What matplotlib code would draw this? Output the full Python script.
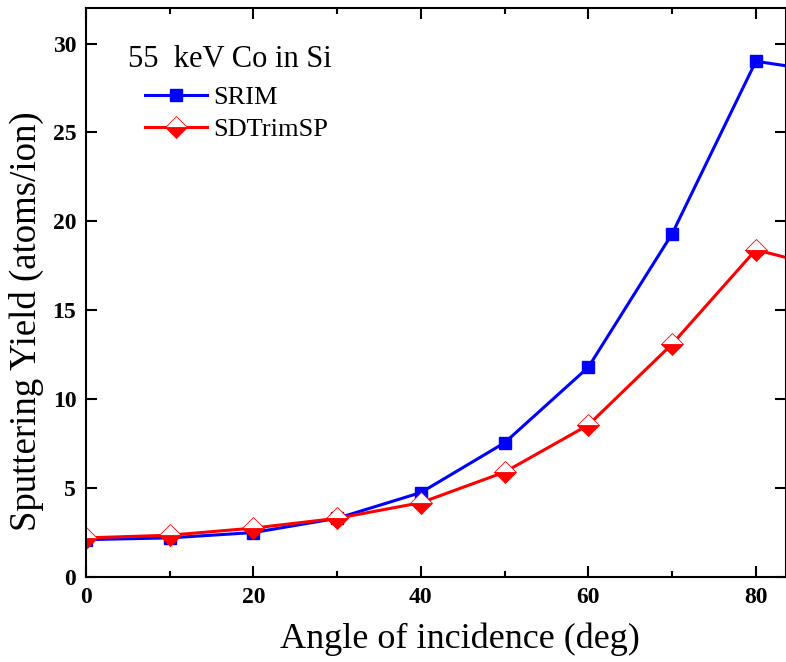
import numpy as np
import matplotlib
matplotlib.use('Agg')
import matplotlib.pyplot as plt

plt.rc('font', family='Liberation Serif')

angle = [0, 10, 20, 30, 40, 50, 60, 70, 80, 90]
srim = [2.1, 2.2, 2.5, 3.3, 4.75, 7.55, 11.8, 19.3, 29.0, 28.3]
sdtrim = [2.2, 2.35, 2.75, 3.3, 4.18, 5.9, 8.55, 13.1, 18.4, 17.2]

fig = plt.figure(figsize=(7.86, 6.62), dpi=100)
ax = fig.add_axes([0.1094, 0.1284, 0.8906, 0.8596])

ax.plot(angle, srim, '-', color='blue', lw=2.2, marker='s', ms=9,
        mfc='blue', mec='blue', label='SRIM')
ax.plot(angle, sdtrim, '-', color='red', lw=2.2, marker='D', ms=11,
        fillstyle='bottom', mfc='red', mfcalt='white', mec='red', mew=0.6,
        label='SDTrimSP')

ax.set_xlim(0, 83.6)
ax.set_ylim(0, 32)
ax.set_xticks([0, 20, 40, 60, 80])
ax.set_xticks([10, 30, 50, 70], minor=True)
ax.set_yticks([0, 5, 10, 15, 20, 25, 30])
ax.tick_params(which='both', direction='in', top=True, right=True,
               width=1.5, labelsize=17)
ax.tick_params(which='major', length=8, pad=7)
ax.tick_params(which='minor', length=4)
for lbl in ax.get_xticklabels() + ax.get_yticklabels():
    lbl.set_fontweight('bold')
for s in ax.spines.values():
    s.set_linewidth(1.5)

ax.set_xlabel('Angle of incidence (deg)', fontsize=26)
ax.set_ylabel('Sputtering Yield (atoms/ion)', fontsize=26.5)
ax.xaxis.set_label_coords(0.534, -0.08)
ax.yaxis.set_label_coords(-0.06, 0.45)

ax.text(0.06, 0.9086, '55  keV Co in Si', transform=ax.transAxes,
        fontsize=22, va='center', ha='left')
leg = ax.legend(loc='upper left', frameon=False, fontsize=19,
                handlelength=2.35, handletextpad=0.23, labelspacing=0.3,
                borderpad=0, borderaxespad=0,
                bbox_to_anchor=(0.0843, 0.863))

fig.savefig('out.png', dpi=100)
